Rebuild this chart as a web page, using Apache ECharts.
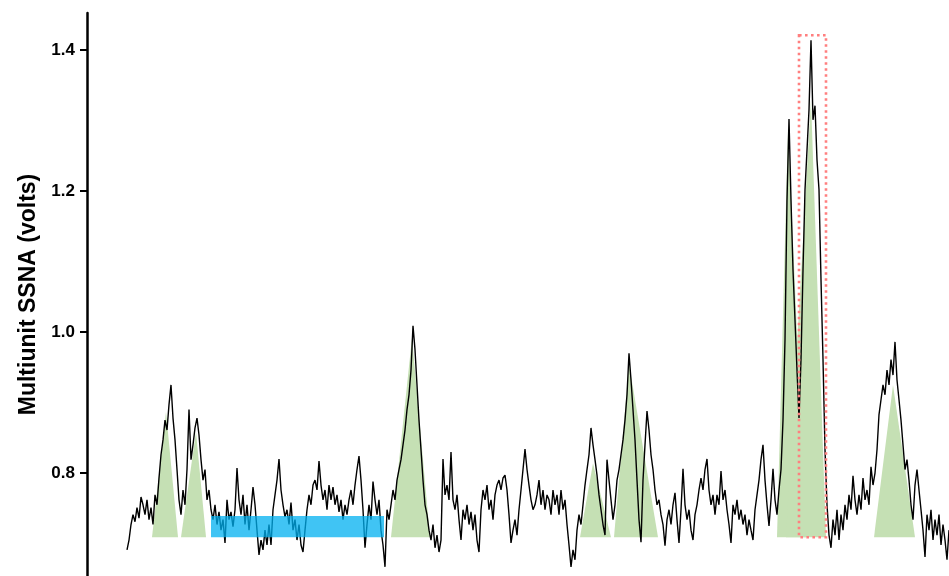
<!DOCTYPE html>
<html>
<head>
<meta charset="utf-8">
<script src="https://cdn.jsdelivr.net/npm/echarts@6/dist/echarts.min.js"></script>
<style>
html,body{margin:0;padding:0;background:#fff;}
#chart{width:949px;height:576px;}
</style>
</head>
<body>
<div id="chart"></div>
<script>
// ---- data (time in seconds, SSNA in volts) ----
const traceStart = 1.0;
const traceStep = 0.05;
const ssnaValues = [
0.691,0.705,0.727,0.741,0.731,0.751,0.736,0.766,0.755,0.741,0.762,0.734,0.751,0.727,0.769,0.755,0.793,0.826,0.847,0.875,
0.861,0.897,0.925,0.878,0.847,0.805,0.762,0.741,0.776,0.755,0.805,0.890,0.819,0.840,0.864,0.878,0.854,0.819,0.790,0.805,
0.762,0.776,0.748,0.734,0.755,0.727,0.745,0.719,0.734,0.701,0.762,0.734,0.745,0.724,0.748,0.807,0.762,0.741,0.769,0.727,
0.755,0.719,0.748,0.780,0.755,0.719,0.684,0.705,0.691,0.719,0.698,0.727,0.698,0.748,0.769,0.790,0.820,0.776,0.755,0.738,
0.748,0.727,0.758,0.719,0.734,0.705,0.727,0.698,0.688,0.719,0.748,0.769,0.755,0.783,0.790,0.776,0.817,0.783,0.762,0.776,
0.748,0.783,0.762,0.780,0.755,0.769,0.745,0.762,0.734,0.755,0.741,0.762,0.776,0.755,0.783,0.805,0.824,0.790,0.748,0.694,
0.727,0.755,0.734,0.788,0.762,0.741,0.762,0.719,0.698,0.667,0.748,0.734,0.755,0.776,0.762,0.790,0.805,0.819,0.840,0.861,
0.890,0.911,0.946,1.009,0.975,0.925,0.875,0.833,0.790,0.755,0.741,0.719,0.705,0.727,0.694,0.712,0.688,0.705,0.820,0.769,
0.783,0.762,0.830,0.762,0.748,0.769,0.734,0.705,0.748,0.734,0.755,0.727,0.745,0.719,0.741,0.705,0.688,0.748,0.776,0.762,
0.783,0.748,0.762,0.734,0.769,0.783,0.790,0.776,0.793,0.797,0.776,0.741,0.701,0.719,0.734,0.712,0.748,0.776,0.805,0.834,
0.805,0.783,0.762,0.748,0.755,0.769,0.790,0.755,0.776,0.748,0.769,0.762,0.741,0.776,0.755,0.769,0.741,0.776,0.748,0.762,
0.727,0.698,0.667,0.691,0.677,0.719,0.741,0.727,0.755,0.783,0.805,0.826,0.864,0.840,0.819,0.797,0.769,0.748,0.727,0.712,
0.819,0.790,0.762,0.734,0.755,0.790,0.805,0.826,0.847,0.875,0.911,0.970,0.932,0.890,0.847,0.790,0.734,0.702,0.790,0.840,
0.888,0.861,0.826,0.805,0.776,0.755,0.762,0.741,0.727,0.697,0.734,0.748,0.727,0.755,0.772,0.734,0.701,0.748,0.806,0.755,
0.734,0.748,0.719,0.705,0.741,0.755,0.776,0.793,0.776,0.805,0.820,0.776,0.755,0.769,0.741,0.769,0.755,0.803,0.762,0.776,
0.748,0.727,0.701,0.755,0.741,0.762,0.734,0.748,0.727,0.741,0.712,0.734,0.719,0.705,0.748,0.769,0.790,0.819,0.840,0.790,
0.755,0.725,0.762,0.806,0.762,0.741,0.776,0.805,0.875,0.989,1.187,1.302,1.187,1.088,1.017,0.946,0.878,0.961,1.088,1.202,
1.258,1.315,1.414,1.301,1.321,1.244,1.202,1.074,0.961,0.833,0.755,0.712,0.694,0.734,0.712,0.748,0.705,0.741,0.719,0.755,
0.734,0.769,0.748,0.796,0.762,0.741,0.769,0.748,0.793,0.762,0.776,0.755,0.809,0.783,0.800,0.833,0.883,0.904,0.925,0.911,
0.946,0.925,0.961,0.939,0.986,0.932,0.904,0.875,0.840,0.805,0.819,0.790,0.755,0.734,0.783,0.805,0.776,0.748,0.719,0.681,
0.741,0.719,0.748,0.705,0.734,0.712,0.741,0.698,0.727,0.705,0.677,0.719
];
const yTicks = [0.8, 1.0, 1.2, 1.4];
const yMin = 0.654, yMax = 1.4525;
const xMin = 0, xMax = 21.55;

// bursts (green triangles): start, peak time, end, peak height
const burstBase = 0.709;
const burstStart = [1.625, 2.35, 7.6, 12.325, 13.175, 17.25, 17.475, 19.675];
const burstPeakTime = [1.975, 2.725, 8.125, 12.65, 13.55, 17.525, 18.1, 20.15];
const burstEnd = [2.275, 2.975, 8.575, 13.1, 14.275, 17.975, 18.475, 20.7];
const burstPeak = [0.887, 0.858, 0.992, 0.814, 0.955, 1.289, 1.329, 0.925];

// quiet (blue) band and highlighted (red dotted) burst
const quietTime = [3.1, 7.425];
const quietRange = [0.709, 0.739];
const highlightTime = [17.8, 18.475];
const highlightRange = [0.709, 1.421];

// ---- build ----
const traceData = ssnaValues.map((v, i) => [traceStart + i * traceStep, v]);
const burstData = burstStart.map((s, i) => [s, burstPeakTime[i], burstEnd[i], burstPeak[i]]);

const FONT = '"Liberation Sans", Arial, sans-serif';
const chart = echarts.init(document.getElementById('chart'), null, {renderer: 'canvas'});

chart.setOption({
  animation: false,
  backgroundColor: '#ffffff',
  grid: {left: 87, right: 0, top: 13, bottom: 0, containLabel: false},
  xAxis: {type: 'value', min: xMin, max: xMax, show: false},
  yAxis: {
    type: 'value', min: yMin, max: yMax,
    axisLine: {show: true, lineStyle: {color: '#000', width: 2.5}},
    axisTick: {show: true, customValues: yTicks, length: 7, lineStyle: {color: '#000', width: 2}},
    axisLabel: {
      customValues: yTicks, formatter: v => v.toFixed(1),
      fontFamily: FONT, fontWeight: 'bold', fontSize: 17, color: '#000', margin: 12
    },
    splitLine: {show: false},
    name: 'Multiunit SSNA (volts)', nameLocation: 'middle', nameGap: 45,
    nameTextStyle: {fontFamily: FONT, fontWeight: 'bold', fontSize: 23, color: '#000'}
  },
  series: [
    {
      type: 'custom', z: 1, silent: true,
      data: burstData,
      encode: {x: [0, 1, 2], y: 3},
      renderItem: (params, api) => {
        const a = api.coord([api.value(0), burstBase]);
        const b = api.coord([api.value(1), api.value(3)]);
        const c = api.coord([api.value(2), burstBase]);
        return {type: 'polygon', shape: {points: [a, b, c]}, style: {fill: '#c5e0b4', stroke: null}};
      }
    },
    {
      type: 'line', z: 2, silent: true, showSymbol: false, symbol: 'none',
      data: traceData,
      lineStyle: {color: '#000', width: 1.4}
    },
    {
      type: 'custom', z: 3, silent: true,
      data: [[quietTime[0], quietTime[1], quietRange[0], quietRange[1]]],
      renderItem: (params, api) => {
        const p0 = api.coord([api.value(0), api.value(3)]);
        const p1 = api.coord([api.value(1), api.value(2)]);
        return {type: 'rect', shape: {x: p0[0], y: p0[1], width: p1[0] - p0[0], height: p1[1] - p0[1]},
          style: {fill: 'rgba(0,176,240,0.75)', stroke: null}};
      }
    },
    {
      type: 'custom', z: 4, silent: true,
      data: [[highlightTime[0], highlightTime[1], highlightRange[0], highlightRange[1]]],
      renderItem: (params, api) => {
        const p0 = api.coord([api.value(0), api.value(3)]);
        const p1 = api.coord([api.value(1), api.value(2)]);
        return {type: 'rect', shape: {x: p0[0], y: p0[1], width: p1[0] - p0[0], height: p1[1] - p0[1]},
          style: {fill: null, stroke: '#ff7f7f', lineWidth: 2.6, lineDash: [2.6, 3.4]}};
      }
    }
  ]
});
</script>
</body>
</html>
